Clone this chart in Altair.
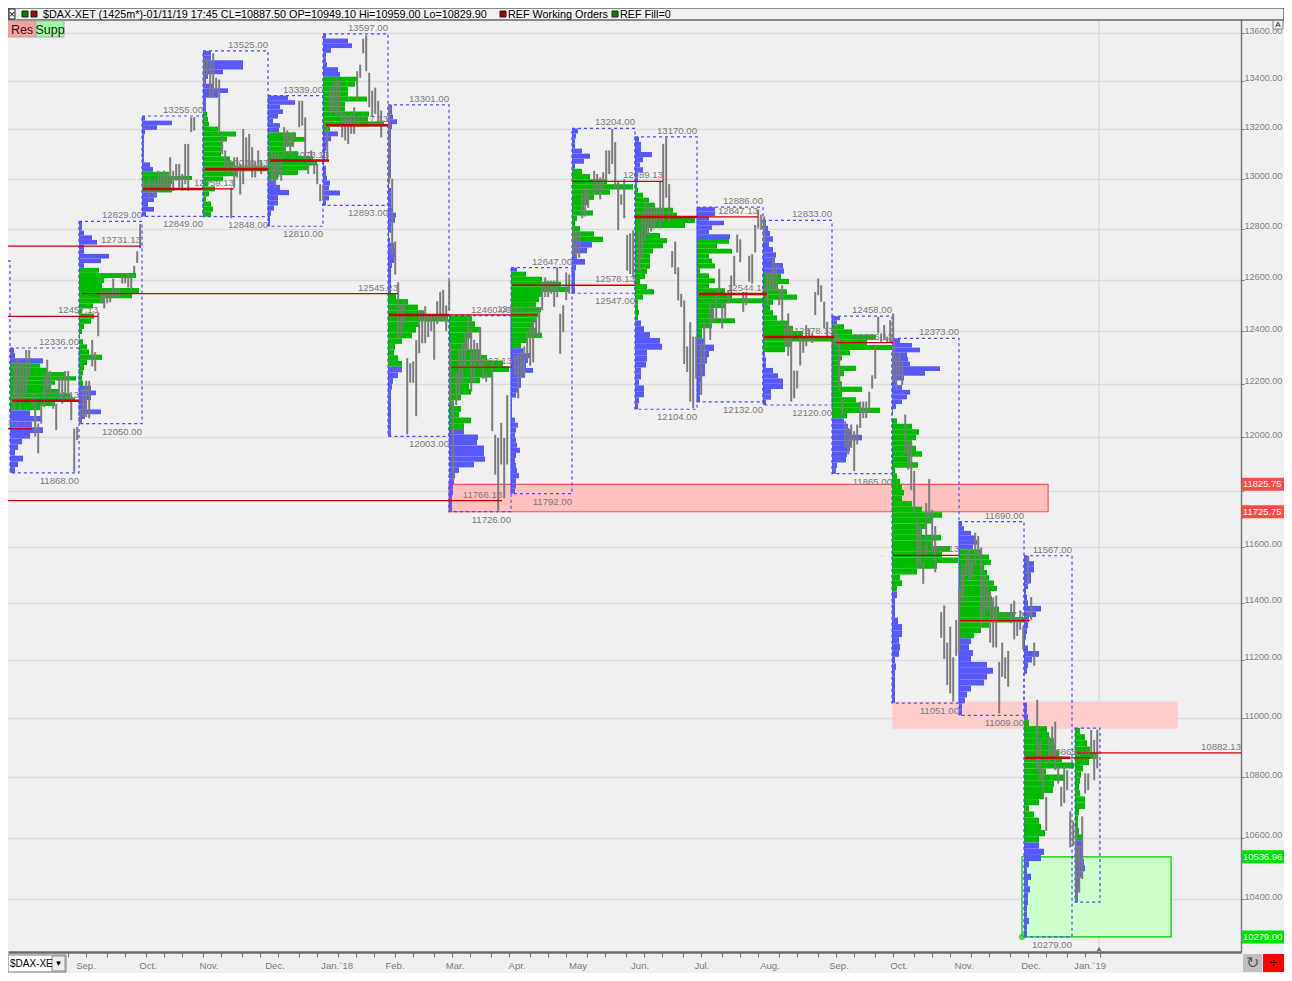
import altair as alt

FONT = "Liberation Sans"
GRAY = "#808080"
BLUE = "#5858ff"
GREEN = "#00bb00"
RED = "#cc0000"

# session table (x in daily-bar slots, 1 slot = one trading day)
sess_left = [0.67, 23.67, 44.67, 65, 86.67, 105, 126.67, 147, 167.67, 188, 209, 229.67, 251.67, 274.67, 294.67, 317, 338.67, 355.67]
sess_right = [23.67, 44.67, 65, 86.67, 105, 126.67, 147, 167.67, 188, 209, 229.67, 251.67, 274.67, 294.67, 317, 338.67, 354.67, 364]
sess_hi = [12336, 12829, 13255, 13525, 13339, 13597, 13301, 12460, 12647, 13204, 13170, 12886, 12833, 12458, 12373, 11690, 11567, 10966]
sess_lo = [11868, 12050, 12849, 12848, 12810, 12893, 12003, 11726, 11792, 12547, 12104, 12132, 12120, 11865, 11051, 11009, 10279, 10390]
sess_labelled = [True] * 17 + [False]
va_hi = [12277, 12646, 13028, 13272, 13188, 13417, 12546, 12460, 12631, 13040, 12984, 12760, 12623, 12427, 12070, 11590, 10993, 10966]
va_lo = [12100, 12192, 12945, 12848, 12996, 13192, 12265, 12030, 12335, 12748, 12442, 12373, 12320, 12070, 11439, 11275, 10584, 10590]

profile_top = [
    [4, 5, 33],
    [3, 3, 5, 13, 18, 5, 5, 30, 22, 5],
    [3, 30, 15, 3, 2, 2, 2, 2, 2, 2, 8, 11],
    [8, 8, 40, 40, 20, 5, 3, 10, 25, 15, 3, 3, 3],
    [20, 27, 12, 15, 10, 5, 12, 11],
    [3, 25, 29, 8, 3, 3, 4, 15, 17],
    [4, 4, 5, 9, 4, 3, 3, 3, 3, 3, 3, 3, 3, 3, 3, 2, 1, 3, 3, 3, 3, 4, 8, 7, 3, 3, 1, 2, 6, 7, 8, 6, 4, 3, 3, 3, 3, 3],
    [],
    [6],
    [6, 4, 3, 3, 10, 18, 12, 3],
    [4, 6, 6, 17, 8, 5, 8, 3, 3],
    [18, 18, 12, 27, 15, 12, 33],
    [3, 5, 7, 10, 6, 10, 13, 12, 20, 21],
    [8, 5],
    [8, 20, 28, 15, 16, 18, 48, 33, 12, 4, 10, 18, 15, 10, 4, 1, 0],
    [3, 5, 12, 17, 18, 14],
    [4, 10, 10, 7, 7, 4, 2, 3, 4, 17, 12, 3, 4, 3, 2, 1, 4, 15, 8, 4, 3, 0, 0, 0, 0, 0, 3, 3, 4],
    [],
]
profile_mid = [
    [30, 38, 55, 66, 45, 40, 50, 60, 65, 45, 30],
    [20, 57, 25, 23, 60, 53, 25, 14, 3, 15, 12, 5, 3, 1, 4, 8, 10, 23, 8, 5, 4, 3, 4],
    [27, 50, 30, 28, 30],
    [4, 5, 6, 15, 33, 24, 20, 20, 18, 27, 32, 64, 35, 20, 5, 12, 6, 3, 8, 10, 8],
    [28, 38, 25, 18, 30, 45, 49, 40, 30, 10],
    [34, 32, 25, 25, 44, 22, 22, 46, 45, 61, 7],
    [8, 20, 30, 36, 60, 32, 28, 24, 14, 7, 6, 10, 14],
    [23, 26, 31, 22, 18, 18, 31, 38, 54, 60, 43, 31, 20, 22, 12, 5, 12, 10, 22, 15],
    [15, 31, 50, 58, 32, 28, 25, 30, 27, 25, 22, 25, 31, 16, 10],
    [10, 18, 35, 61, 38, 22, 16, 12, 21, 5, 3, 8, 22, 31],
    [2, 3, 8, 14, 20, 38, 42, 60, 50, 12, 25, 32, 28, 18, 15, 15, 15, 12, 10, 5, 12, 19, 8, 3, 3, 4, 3],
    [32, 20, 35, 12, 15, 18, 3, 12, 18, 12, 28, 35, 68, 28, 16, 16, 38, 15, 5, 5],
    [18, 26, 15, 24, 34, 10, 7, 10, 14, 26, 30, 40, 70, 28, 22],
    [12, 20, 44, 35, 60, 18, 10, 8, 24, 12, 8, 10, 30, 10, 24, 28, 48, 15],
    [5, 20, 27, 24, 20, 24, 30, 18, 26, 3, 5, 8, 10, 12, 10, 20, 30, 50, 40, 35, 30, 49, 40, 58, 50, 66, 45, 25, 8, 10, 5],
    [22, 30, 32, 25, 28, 30, 35, 38, 32, 33, 35, 40, 55, 70, 30, 22, 15],
    [5, 23, 25, 30, 31, 35, 38, 50, 22, 41, 30, 29, 20, 15, 5, 10, 15, 17, 21, 15],
    [5, 10, 12, 15, 23, 14, 8, 6, 5, 4, 5, 10, 10, 4, 3, 3, 4, 8],
]
profile_low = [
    [20, 31, 22, 33, 20, 12, 8, 5, 13, 8, 5],
    [12, 17, 12, 8, 8, 22, 6, 3],
    [15, 12, 6, 12, 4],
    [],
    [8, 12, 21, 10, 10, 6, 3, 2, 2],
    [15, 8, 4, 3, 2, 2, 1, 3, 3, 4, 7, 6, 17, 6, 3],
    [14, 10, 5, 4, 3, 3, 3, 3, 3, 3, 3, 3],
    [15, 29, 28, 35, 35, 36, 25, 10, 6, 5, 4, 4, 3, 3, 3],
    [12, 20, 17, 15, 22, 14, 10, 10, 8, 5, 1, 1, 1, 1, 4, 7, 5, 4, 5, 6, 9, 5, 4, 5, 6, 8, 5, 5, 4],
    [20, 15, 5, 13, 4, 3, 3, 3, 3],
    [6, 9, 15, 25, 27, 12, 12, 11, 6, 6, 4, 9, 9, 4, 3],
    [8, 17, 12, 10, 8, 8, 4, 3, 3, 3],
    [2, 3, 3, 10, 15, 20, 20, 8, 8, 3],
    [12, 16, 20, 30, 20, 18, 15, 14, 5, 4],
    [5, 3, 3, 3, 6, 10, 10, 7, 8, 7, 3, 4, 3, 3, 3, 3, 3],
    [12, 10, 14, 12, 28, 34, 28, 25, 12, 8, 6, 3, 3],
    [15, 20, 17, 5, 3, 7, 4, 6, 4, 4, 3, 3, 5, 3, 3],
    [8, 8, 8, 9, 10, 8, 5, 5, 3, 3],
]

daily_bars = [
    [None, (12100, 12285), (12137, 12297), (12100, 12285), (12137, 12273), (12156, 12328), (12223, 12328), (12112, 12162), (12002, 12162), (11940, 12051), (12050, 12125), (12112, 12236), (12174, 12291), (12162, 12248), (12106, 12137), (12026, 12125), (12137, 12230), (12125, 12223), (12162, 12248), (12137, 12248), (12063, 12162), (11872, 12032), (11989, 12038), (12051, 12100)],
    [None, (12075, 12185), (12075, 12211), (12070, 12211), (12266, 12367), (12248, 12320), (12381, 12473), (12508, 12558), (12488, 12558), (12508, 12558), (12512, 12558), (12531, 12604), (12531, 12565), (12531, 12565), (12585, 12615), (12585, 12608), (12569, 12623), (12550, 12608), (12623, 12654), (12665, 12711), (12723, 12819)],
    [(12951, 12992), (12944, 12992), (12910, 13005), (12951, 12992), (12924, 12998), (12951, 13032), (12958, 13019), (12964, 13032), (12964, 13019), (12964, 13087), (12951, 13032), (12992, 13060), (12964, 13060), (12951, 13019), (12978, 13141), (12951, 13141), (13189, 13250), (13196, 13250)],
    [(13386, 13495), (13427, 13495), (13332, 13481), (13332, 13515), (13359, 13413), (13182, 13406), (13100, 13182), (13046, 13114), (13019, 13073), (12842, 12964), (12964, 13087), (13005, 13087), (12937, 13060), (12978, 13202), (13032, 13168), (13032, 13182), (13005, 13128), (13005, 13073), (13032, 13114), (13019, 13073)],
    [None, (12985, 13114), (12964, 13100), (13005, 13094), (12992, 13087), (13087, 13209), (13128, 13196), (13100, 13182), (13128, 13189), None, (13209, 13318), (13216, 13318), (13073, 13250), (13019, 13087), (13060, 13114), (13019, 13073), (12978, 13060), (12910, 12978), (12917, 12971)],
    [None, (13073, 13209), (13264, 13372), (13277, 13400), (13250, 13420), (13264, 13400), (13168, 13277), (13155, 13264), (13141, 13250), (13182, 13264), (13182, 13291), (13318, 13440), (13413, 13468), (13515, 13576), (13440, 13590), (13291, 13434), (13250, 13359), (13264, 13372), (13223, 13318), (13168, 13277)],
    [(12980, 13300), (12700, 13000), (12620, 12750), (12372, 12590), (12380, 12500), (12422, 12516), (12010, 12297), (12204, 12278), (12204, 12285), (12078, 12366), (12316, 12478), (12354, 12478), (12354, 12497), (12378, 12466), (12400, 12460), (12291, 12466), (12428, 12516), (12441, 12553), (12440, 12560), (12400, 12500), (12480, 12596)],
    [(12120, 12355), (11837, 12133), (12120, 12244), (12157, 12330), (12207, 12355), (12268, 12392), (12330, 12453), (12170, 12410), (12207, 12367), (12281, 12355), (12256, 12416), (12219, 12299), (12207, 12244), None, (12022, 12281), (11861, 12009), (11726, 11997), (11899, 12053), (11775, 11997), (11899, 12157)],
    [None, (12231, 12305), (12145, 12312), (12225, 12318), (12231, 12342), (12293, 12392), (12268, 12416), (12281, 12453), (12380, 12453), (12380, 12491), (12481, 12590), (12532, 12609), (12532, 12596), (12545, 12596), (12494, 12596), (12532, 12648), (12314, 12468), (12397, 12500), (12520, 12628), (12545, 12620)],
    [(12690, 12801), (12686, 12789), (12686, 12789), (12842, 12944), (12849, 12964), (12883, 12964), None, (12937, 13032), (12951, 13019), (12917, 13005), (12951, 13026), (12992, 13114), (13019, 13114), (13060, 13202), (12964, 13148), (12794, 12992), (12896, 12937), (12842, 12998), (12635, 12776), (12622, 12782), (12609, 12794)],
    [None, (12635, 12794), (12686, 12869), (12750, 12903), (12776, 12890), (12789, 12883), (12801, 12896), (12828, 12883), (12801, 12992), (12828, 13141), (12924, 13168), (12828, 12978), (12648, 12712), (12622, 12750), (12519, 12648), (12494, 12545), (12275, 12519), (12244, 12342), (12133, 12435), (12108, 12379), (12219, 12379)],
    [None, (12158, 12355), (12281, 12437), None, (12367, 12514), (12437, 12488), (12450, 12552), (12552, 12642), (12411, 12514), (12450, 12514), (12507, 12559), (12539, 12616), (12578, 12693), (12706, 12777), (12668, 12758), (12475, 12552), (12501, 12552), (12591, 12693), (12584, 12700), (12706, 12815), (12801, 12876), (12796, 12856), (12745, 12849)],
    [(12745, 12801), (12501, 12629), (12565, 12629), (12552, 12687), (12560, 12655), (12501, 12565), (12437, 12578), (12342, 12430), (12306, 12469), (12133, 12411), (12145, 12250), (12182, 12250), (12269, 12379), (12318, 12367), (12343, 12424), (12367, 12411), (12355, 12392), (12462, 12552), (12539, 12604), (12514, 12578), (12411, 12514), (12379, 12437)],
    [None, (12342, 12424), (12170, 12379), (12084, 12145), (11960, 12059), (11936, 12034), (11960, 12047), (11874, 12022), (11973, 12047), (12034, 12133), (12071, 12133), (12071, 12133), (12096, 12170), (12182, 12232), (12219, 12342), (12392, 12456), (12355, 12392), (12367, 12424), (12355, 12379), (12355, 12443), (12293, 12469)],
    [(12207, 12367), (12182, 12306), (12219, 12318), (12195, 12281), (11936, 12084), (11880, 11985), (11804, 11985), (11721, 11875), (11532, 11698), (11532, 11674), (11467, 11544), (11555, 11757), (11709, 11845), (11579, 11733), (11508, 11674), None, (11277, 11367), (11203, 11390), (11113, 11260), (11084, 11316), (11056, 11209), (11214, 11339), (11226, 11449), (11425, 11510)],
    [None, (11396, 11532), (11500, 11579), (11485, 11591), (11485, 11550), (11532, 11650), (11567, 11638), (11316, 11597), (11350, 11496), (11373, 11473), (11260, 11437), (11243, 11419), (11243, 11425), (11016, 11192), (11141, 11260), (11135, 11209), (11107, 11231), (11328, 11396), (11271, 11407), (11283, 11350), (11305, 11373), (11237, 11316)],
    [None, (11467, 11567), (11340, 11420), (11180, 11260), (10824, 11062), (10790, 10926), (10735, 10830), (10622, 10735), (10847, 10937), (10869, 10971), (10824, 10988), (10779, 10835), (10703, 10768), (10714, 10841), (10757, 10824), (10568, 10687), (10573, 10654), (10389, 10638), (10519, 10573)],
    [(10389, 10551), (10421, 10573), (10465, 10670), (10746, 10813), (10757, 10813), (10881, 10960), (10790, 10926), (10830, 10960)],
]

# point-of-control lines: price, label, start, end, end of the heavy part
poc_price = [12731.13, 12457.13, 12031.13, 11766.13, 12136.13, 12545.23, 12959.13, 13038.63, 13073.13, 13217.13, 12463.13, 12263.13, 12578.13, 12989.13, 12847.13, 12544.13, 12378.13, 12356.13, 11568.13, 11337.13, 10865.13, 10882.13]
poc_start = [0, 0, 0, 0, 1.5, 24.5, 45, 65.7, 87.3, 106, 127, 147.7, 168, 188.3, 209, 230.3, 252, 276, 295, 317.3, 339, 356.3]
poc_end = [44.3, 30, 8, 164.7, 23.7, 130, 75.3, 86.7, 107, 126.7, 176.3, 168, 209, 218.3, 250, 253, 275.3, 295, 317, 340.7, 360.7, 411]
poc_heavy = [None, None, None, None, 23.7, None, 65, 86.7, 107, 126.7, 147, None, None, None, 229.7, 253, 275.3, None, None, None, 354, None]

zone_x0 = [147, 295, 338]
zone_x1 = [346.7, 389.7, 387.7]
zone_hi = [11825.75, 11054, 10536.96]
zone_lo = [11725.75, 10966, 10279]
zone_fill = ["#ffc0c0", "#ffcccc", "#ccffcc"]
zone_line = ["#ff5050", "#ffcccc", "#00cc00"]

tag_price = [11825.75, 11725.75, 10536.96, 10279.00]
tag_color = ["#ff4848", "#ff4848", "#00e000", "#00e000"]

month_names = ["Sep.", "Oct.", "Nov.", "Dec.", "Jan.`18", "Feb.", "Mar.", "Apr.", "May", "Jun.", "Jul.", "Aug.", "Sep.", "Oct.", "Nov.", "Dec.", "Jan.`19"]
month_pos = [26, 46.7, 67, 89, 109.7, 129, 149, 169.7, 190, 210.7, 231.3, 254, 277, 297, 318.7, 341, 360.7]
tick_pos = [20, 26, 33, 39, 46, 52, 58, 65, 71, 78, 84, 90, 97, 103, 110, 116, 122, 129, 135, 142, 148, 154, 161, 167, 174, 180, 186, 193, 199, 206, 212, 218, 225, 231, 238, 244, 250, 257, 263, 270, 276, 282, 289, 295, 302, 308, 314, 321, 327, 334, 340, 346, 353, 359, 364]
price_ticks = [10400, 10600, 10800, 11000, 11200, 11400, 11600, 11800, 12000, 12200, 12400, 12600, 12800, 13000, 13200, 13400, 13600]
today = 363.7

W, H = 1233, 944
xs = alt.Scale(domain=[0, 411], nice=False, zero=False)
ys = alt.Scale(type="log", domain=[10231, 13706], nice=False, zero=False)
x_axis = alt.Axis(values=tick_pos, labels=False, tickSize=5, tickColor="#707070", domainColor="#6a6a6a",
                  domainWidth=2.5, grid=False, title=None, orient="bottom")
y_axis = alt.Axis(values=price_ticks, orient="right", format=".2f", tickSize=3, tickColor=GRAY, domainColor="#777777",
                  domainWidth=1.5, labelColor=GRAY, labelFont=FONT, labelFontSize=9.1, labelPadding=0, labelOffset=-3,
                  labelExpr="datum.value == 11800 ? '' : format(datum.value, '.2f')",
                  grid=True, gridColor="#dcdcdc", gridWidth=1.5, title=None)


def X(f="x"):
    return alt.X(f, type="quantitative", scale=xs, axis=x_axis, title=None)


def Y(f="y"):
    return alt.Y(f, type="quantitative", scale=ys, axis=y_axis, title=None)


X2 = lambda f="x2": alt.X2(f)
Y2 = lambda f="y2": alt.Y2(f)
layers = []

# today line
layers.append(alt.Chart(alt.Data(values=[{"x": today, "y": 13706, "y2": 10231}])).mark_rule(color="#dcdcdc", strokeWidth=1.5).encode(x=X(), y=Y(), y2=Y2()))

# zones
zones = [{"x": a, "x2": b, "y": c, "y2": d, "f": e, "s": g} for a, b, c, d, e, g in zip(zone_x0, zone_x1, zone_hi, zone_lo, zone_fill, zone_line)]
layers.append(alt.Chart(alt.Data(values=zones)).mark_rect(strokeWidth=1.2).encode(
    x=X(), x2=X2(), y=Y(), y2=Y2(),
    fill=alt.Fill("f:N", scale=None), stroke=alt.Stroke("s:N", scale=None)))

# volume profiles
rows = []
for i in range(len(sess_left)):
    sections = [
        (sess_hi[i], va_hi[i], profile_top[i], "out"),
        (va_hi[i], va_lo[i], profile_mid[i], "va"),
        (va_lo[i], sess_lo[i], profile_low[i], "out"),
    ]
    for top, bot, vols, kind in sections:
        if not vols:
            continue
        step = (top - bot) / len(vols)
        for k, v in enumerate(vols):
            if v <= 0:
                continue
            rows.append({"x": sess_left[i], "x2": sess_left[i] + v / 3, "y": top - k * step, "y2": top - (k + 1) * step, "z": kind})
layers.append(alt.Chart(alt.Data(values=rows)).mark_rect(strokeWidth=0).encode(
    x=X(), x2=X2(), y=Y(), y2=Y2(),
    color=alt.Color("z:N", scale=alt.Scale(domain=["out", "va"], range=[BLUE, GREEN]), legend=None)))

# dashed session boxes
boxes = [{"x": a, "x2": b, "y": c, "y2": d} for a, b, c, d in zip(sess_left, sess_right, sess_hi, sess_lo)]
boxes.append({"x": -8, "x2": 0.67, "y": 12673, "y2": 12093})
layers.append(alt.Chart(alt.Data(values=boxes)).mark_rect(fillOpacity=0, stroke="#4a4aff", strokeWidth=1.2, strokeDash=[3, 3]).encode(
    x=X(), x2=X2(), y=Y(), y2=Y2()))

# daily bars
bars = []
for i, lst in enumerate(daily_bars):
    for k, b in enumerate(lst):
        if b is not None:
            bars.append({"x": sess_left[i] + k + 0.4, "y": b[1], "y2": b[0]})
layers.append(alt.Chart(alt.Data(values=bars)).mark_rule(color="#7c7c7c", strokeWidth=2).encode(x=X(), y=Y(), y2=Y2()))

# POC lines
thin = [{"x": a, "x2": b, "y": p} for a, b, p in zip(poc_start, poc_end, poc_price)]
heavy = [{"x": a, "x2": h, "y": p} for a, h, p in zip(poc_start, poc_heavy, poc_price) if h is not None]
layers.append(alt.Chart(alt.Data(values=thin)).mark_rule(color=RED, strokeWidth=1.3).encode(x=X(), x2=X2(), y=Y()))
layers.append(alt.Chart(alt.Data(values=heavy)).mark_rule(color=RED, strokeWidth=2.5).encode(x=X(), x2=X2(), y=Y()))

# labels
hi_lab = [{"x": r, "y": h, "t": f"{h:.2f}"} for r, h, ok in zip(sess_right, sess_hi, sess_labelled) if ok]
lo_lab = [{"x": r, "y": l, "t": f"{l:.2f}"} for r, l, ok in zip(sess_right, sess_lo, sess_labelled) if ok]
poc_lab = [{"x": e, "y": p, "t": f"{p:.2f}"} for e, p in zip(poc_end, poc_price)]
common = dict(font=FONT, fontSize=9.6, color="#7a7a7a", align="right")
layers.append(alt.Chart(alt.Data(values=hi_lab)).mark_text(baseline="bottom", dy=-1, **common).encode(x=X(), y=Y(), text="t:N"))
layers.append(alt.Chart(alt.Data(values=lo_lab)).mark_text(baseline="top", dy=3, **common).encode(x=X(), y=Y(), text="t:N"))
layers.append(alt.Chart(alt.Data(values=poc_lab)).mark_text(baseline="bottom", dy=-1, **common).encode(x=X(), y=Y(), text="t:N"))

# price tags at the right edge
tags = [{"y": p, "c": c, "t": f"{p:.2f}"} for p, c in zip(tag_price, tag_color)]
layers.append(alt.Chart(alt.Data(values=tags)).mark_rule(strokeWidth=13).encode(
    x=alt.value(W + 1), x2=alt.value(W + 43), y=Y(), color=alt.Color("c:N", scale=None)))
layers.append(alt.Chart(alt.Data(values=tags)).mark_text(font=FONT, fontSize=9.4, color="white", align="left").encode(
    x=alt.value(W + 2), y=Y(), text="t:N"))

# month labels under the time axis
months = [{"x": a, "t": b} for a, b in zip(month_pos, month_names)]
layers.append(alt.Chart(alt.Data(values=months)).mark_text(font=FONT, fontSize=9.6, color="#7a7a7a").encode(
    x=X(), y=alt.value(H + 14), text="t:N"))

# today marker and anchor dot
layers.append(alt.Chart(alt.Data(values=[{"x": today}])).mark_point(shape="triangle-up", filled=True, size=26, color="#707070", opacity=1).encode(
    x=X(), y=alt.value(H - 3)))
layers.append(alt.Chart(alt.Data(values=[{"x": 338, "y": 10279}])).mark_point(size=16, color="#00cc00", filled=False).encode(x=X(), y=Y()))


# window furniture: panels and text
def box(x0, x1, y0, y1, fill, stroke=None, sw=1):
    kw = dict(fill=fill, strokeWidth=sw)
    if stroke:
        kw["stroke"] = stroke
    return alt.Chart(alt.Data(values=[{"a": 1}])).mark_rect(**kw).encode(
        x=alt.value(x0), x2=alt.value(x1), y=alt.value(y0), y2=alt.value(y1))


def label(x, y, t, size=11, color="black", align="left"):
    return alt.Chart(alt.Data(values=[{"t": t}])).mark_text(font=FONT, fontSize=size, color=color, align=align).encode(
        x=alt.value(x), y=alt.value(y), text="t:N")


header = "$DAX-XET (1425m*)-01/11/19 17:45 CL=10887.50 OP=10949.10 Hi=10959.00 Lo=10829.90"
layers += [
    box(0, 1276, 0, 12, "#f0f0f0", "#222222"),
    box(1, 7, 1, 11, "white", "#222222"),
    label(4, 6.5, "×", 11, "black", "center"),
    box(14, 20, 3, 9, "#008800", "#222222"),
    box(23, 29, 3, 9, "#aa0000", "#222222"),
    label(35, 6.5, header, 10.8),
    box(492, 498, 3, 9, "#aa0000", "#222222"),
    label(500, 6.5, "REF Working Orders", 10.8),
    box(604, 610, 3, 9, "#008800", "#222222"),
    label(612, 6.5, "REF Fill=0", 10.8),
    box(0, 28, 13, 29, "#ff9e9e", "#aaaaaa"),
    box(28, 56, 13, 29, "#9eff9e", "#aaaaaa"),
    label(14, 21.5, "Res", 12.5, "#222222", "center"),
    label(42, 21.5, "Supp", 12.5, "#222222", "center"),
    box(1265, 1275, 12.5, 21, "#f0f0f0", "#888888"),
    label(1270, 17, "A", 8, "#222222", "center"),
    box(0, 58, H + 3, H + 20, "white", "#777777"),
    box(44, 57, H + 4, H + 19, "#eeeeee", "#888888"),
    label(2, H + 12, "$DAX-XE", 10, "black"),
    label(50.5, H + 12, "▼", 8, "black", "center"),
    box(W + 2, W + 21, H + 2, H + 20, "#c0c0c0"),
    label(W + 11.5, H + 11, "↻", 16, "#555555", "center"),
    box(W + 22, W + 43, H + 2, H + 20, "#ff0000"),
    label(W + 32.5, H + 11, "+", 12, "black", "center"),
]

chart = alt.layer(*layers).properties(
    width=W, height=H, background="#f0f0f0",
    padding={"left": 0, "top": 0, "right": 43, "bottom": 21},
    autosize=alt.AutoSizeParams(type="none"),
).configure_view(stroke=None, fill="#f0f0f0")

chart.save("out.html", embed_options={"renderer": "svg", "actions": False})
